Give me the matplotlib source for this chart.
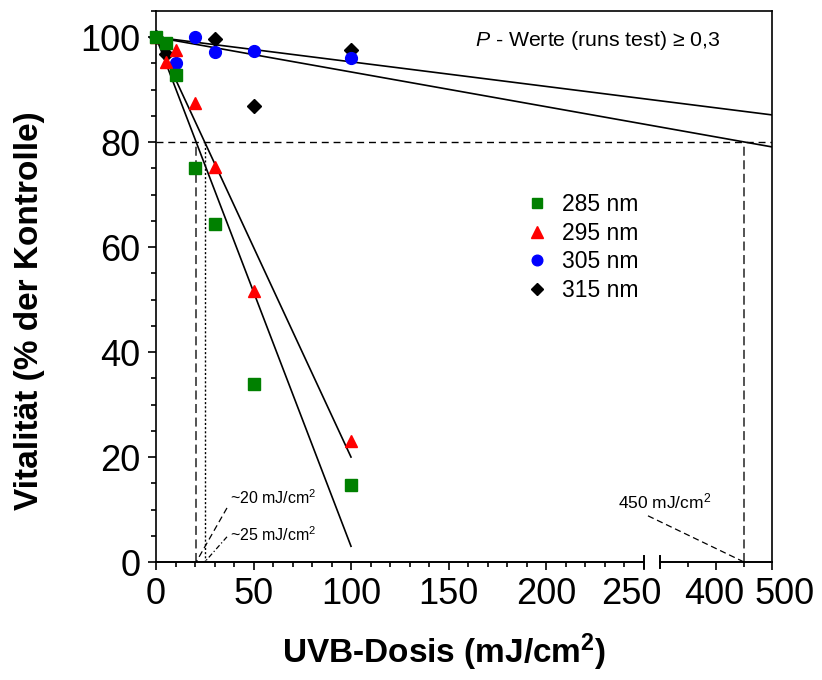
import numpy as np
import matplotlib
matplotlib.use("Agg")
import matplotlib.pyplot as plt
from matplotlib.lines import Line2D
from matplotlib.transforms import ScaledTranslation

plt.rcParams['font.family'] = ['Liberation Sans', 'DejaVu Sans']
plt.rcParams['mathtext.fontset'] = 'custom'
plt.rcParams['mathtext.rm'] = 'Liberation Sans'
plt.rcParams['mathtext.it'] = 'Liberation Sans:italic'
plt.rcParams['mathtext.bf'] = 'Liberation Sans:bold'

# ---------------- data ----------------
labels = ["285 nm", "295 nm", "305 nm", "315 nm"]
colors = ["#008000", "#FF0000", "#0000FF", "#000000"]
markers = ["s", "^", "o", "D"]

dose_285 = [0, 5, 10, 20, 30, 50, 100]
vit_285 = [100, 98.9, 92.8, 75.0, 64.4, 33.9, 14.7]
dose_295 = [0, 5, 10, 20, 30, 50, 100]
vit_295 = [100, 95.2, 97.6, 87.5, 75.3, 51.7, 23.0]
dose_305 = [0, 10, 20, 30, 50, 100]
vit_305 = [100, 95.0, 100.0, 97.2, 97.4, 96.1]
dose_315 = [0, 5, 30, 50, 100]
vit_315 = [100, 96.8, 99.7, 86.9, 97.5]

fit_x = [[0, 100], [0, 100], [0, 500], [0, 500]]
fit_y = [[100, 3.0], [100, 20.0], [100, 85.2], [100, 79.1]]

threshold = 80
dose80 = [20.6, 25.0, 450]

x_major = [0, 50, 100, 150, 200, 250, 400, 500]
x_minor = [v for v in range(10, 250, 10) if v % 50] + [350, 450]
y_major = [0, 20, 40, 60, 80, 100]
y_minor = list(range(5, 106, 5))

# ---------------- broken-axis scale ----------------
S1, G, S2 = 1.95, 0.33, 0.56
def fwd(x):
    x = np.asarray(x, dtype=float)
    return np.where(x <= 250, x * S1,
                    np.where(x < 300, 250 * S1 + (x - 250) * G,
                             250 * S1 + 50 * G + (x - 300) * S2))
def inv(u):
    u = np.asarray(u, dtype=float)
    b1 = 250 * S1
    b2 = b1 + 50 * G
    return np.where(u <= b1, u / S1,
                    np.where(u < b2, 250 + (u - b1) / G, 300 + (u - b2) / S2))

fig = plt.figure(figsize=(8.22, 6.8), dpi=100)
ax = fig.add_axes([156 / 822, 118 / 680, 616 / 822, 551 / 680])
ax.set_xscale('function', functions=(fwd, inv))
ax.set_xlim(0, 500)
ax.set_ylim(0, 105)

# reference lines
ax.plot([0, 500], [threshold, threshold], color='k', lw=1.0, ls=(0, (5, 3.5)), zorder=1)
ax.plot([dose80[0]] * 2, [0, threshold], color='#444444', lw=1.3, ls=(0, (5, 2.5)), zorder=1)
ax.plot([dose80[1]] * 2, [0, threshold], color='k', lw=1.0, ls=(0, (1.5, 1.5)), zorder=1)
ax.plot([dose80[2]] * 2, [0, threshold], color='#444444', lw=1.3, ls=(0, (5, 2.5)), zorder=1)

# leader lines for annotations
ax.plot([36.4, dose80[0]], [10.3, 0], color='k', lw=0.9, ls=(0, (5, 3)), zorder=1)
ax.plot([36.4, dose80[1]], [4.8, 0], color='k', lw=0.9, ls=(0, (4, 2, 1, 2)), zorder=1)
ax.plot([263.6, dose80[2]], [8.8, 0], color='k', lw=0.9, ls=(0, (5, 3)), zorder=1)

# fit lines
for fx, fy in zip(fit_x, fit_y):
    ax.plot(fx, fy, color='k', lw=1.2, zorder=2)

# data points
doses = [dose_285, dose_295, dose_305, dose_315]
vits = [vit_285, vit_295, vit_305, vit_315]
sizes = [8, 9, 8.5, 7]
zords = [6, 5, 4, 3]
handles = []
for d, v, c, m, s, z, lab in zip(doses, vits, colors, markers, sizes, zords, labels):
    ax.plot(d, v, ls='none', marker=m, color=c, ms=s, mec=c, zorder=z, clip_on=False)
    handles.append(Line2D([], [], ls='none', marker=m, color=c, mec=c, ms=s * 0.9, label=lab))

leg = ax.legend(handles=handles, loc='center left', bbox_to_anchor=(0.6016, 0.571),
                frameon=False, fontsize=16.5, handlelength=0.9, handletextpad=0.65,
                borderpad=0, borderaxespad=0, labelspacing=0.24, numpoints=1)

# texts
ax.text(0.7175, 0.947, r"$\it{P}$ - Werte (runs test) ≥ 0,3", transform=ax.transAxes,
        ha='center', va='center', fontsize=15.3)
ax.text(38, 12.3, r"~20 mJ/cm$^2$", ha='left', va='center', fontsize=11.5)
ax.text(38, 5.2, r"~25 mJ/cm$^2$", ha='left', va='center', fontsize=11.5)
ax.text(237, 11.6, r"450 mJ/cm$^2$", ha='left', va='center', fontsize=12.5)

# axes styling
for sp in ['top', 'right', 'left']:
    ax.spines[sp].set_linewidth(1.2)
ax.spines['bottom'].set_visible(False)
xt = ax.get_xaxis_transform()
ax.plot([0, 250], [0, 0], color='k', lw=1.4, transform=xt, clip_on=False, zorder=7)
ax.plot([300, 500], [0, 0], color='k', lw=1.4, transform=xt, clip_on=False, zorder=7)
for b in [250, 300]:
    ax.plot([b, b], [-0.011, 0.011], color='k', lw=1.4, transform=xt, clip_on=False, zorder=7)

ax.set_xticks(x_major)
ax.set_xticklabels([str(v) for v in x_major])
ax.set_xticks(x_minor, minor=True)
ax.set_yticks(y_major)
ax.set_yticklabels([str(v) for v in y_major])
ax.set_yticks(y_minor, minor=True)
ax.tick_params(axis='both', which='major', direction='out', length=6, width=1.2, labelsize=26)
ax.tick_params(axis='both', which='minor', direction='out', length=3.5, width=1.2)
ax.tick_params(axis='x', which='major', pad=5)
ax.tick_params(axis='y', which='major', pad=5)

# shift crowded labels near the axis break (in pixels)
shift_px = {"250": -12, "400": -2, "500": 13}
for lab in ax.get_xticklabels():
    t = lab.get_text()
    if t in shift_px:
        lab.set_transform(lab.get_transform() +
                          ScaledTranslation(shift_px[t] / 100, 0, fig.dpi_scale_trans))

fig.text(30 / 822, 1 - 311 / 680, "Vitalität (% der Kontrolle)", rotation=90,
         ha='center', va='center', fontsize=24, fontweight='bold')
fig.text(444 / 822, 1 - 652 / 680, r"UVB-Dosis (mJ/cm$^\mathbf{2}$)", ha='center', va='center',
         fontsize=24, fontweight='bold')

fig.savefig("out.png", dpi=100)
